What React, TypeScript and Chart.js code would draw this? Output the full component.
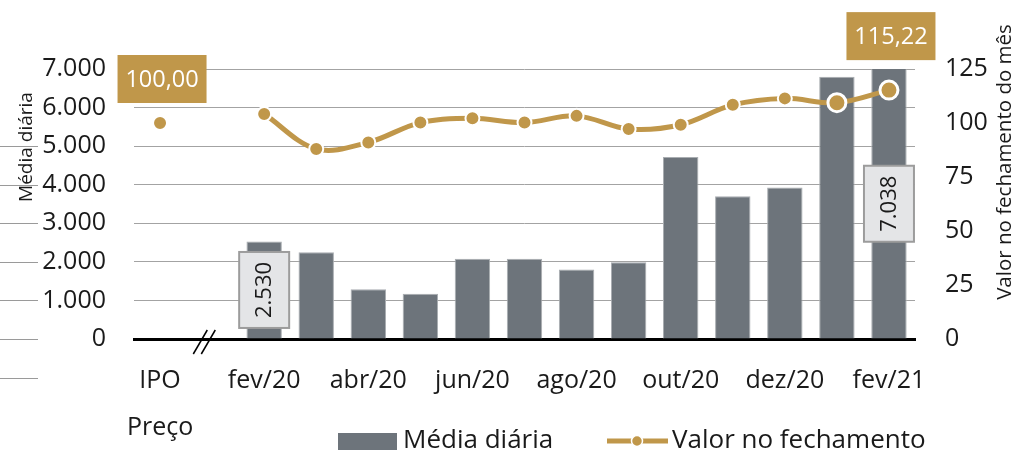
import React, { useEffect, useRef } from "react";
import { Chart, registerables } from "chart.js";

Chart.register(...registerables);

const categories: string[] = [
  "IPO", "", "fev/20", "mar/20", "abr/20", "mai/20", "jun/20", "jul/20",
  "ago/20", "set/20", "out/20", "nov/20", "dez/20", "jan/21", "fev/21",
];
const mediaDiaria: (number | null)[] = [
  null, null, 2530, 2250, 1290, 1170, 2080, 2080, 1800, 1990, 4720, 3700, 3930, 6800, 7038,
];
const valorFechamento: (number | null)[] = [
  100.0, null, 104.2, 88.0, 91.0, 100.2, 102.2, 100.2, 103.3, 97.2, 99.2, 108.4, 111.4, 109.4, 115.22,
];
const leftTicks = [0, 1000, 2000, 3000, 4000, 5000, 6000, 7000];
const rightTicks = [0, 25, 50, 75, 100, 125];
const highlightedPrices = [0, 14];
const highlightedBars = [2, 14];

const GOLD = "#C0974A";
const BAR = "#6D747B";
const FONT = "'Open Sans', 'Noto Sans', sans-serif";

const fmtBR = (v: number, dec: number) =>
  v.toLocaleString("pt-BR", { minimumFractionDigits: dec, maximumFractionDigits: dec });

export default function App() {
  const ref = useRef<HTMLCanvasElement | null>(null);

  useEffect(() => {
    document.body.style.margin = "0";
    const canvas = ref.current;
    if (!canvas) return;

    const decor = {
      id: "decor",
      afterDraw(chart: any) {
        const ctx = chart.ctx;
        const ca = chart.chartArea;
        const x = chart.scales.x;
        const y = chart.scales.y;
        ctx.save();

        // stray grid stubs at the far left
        ctx.strokeStyle = "#9a9a9a";
        ctx.lineWidth = 1;
        for (let v = 5000; v >= -1000; v -= 1000) {
          const py = Math.round(y.getPixelForValue(v)) + 0.5;
          ctx.beginPath();
          ctx.moveTo(0, py);
          ctx.lineTo(38, py);
          ctx.stroke();
        }

        // axis break mark
        const bx = x.getPixelForValue(0.85);
        const by = ca.bottom;
        ctx.strokeStyle = "#000";
        ctx.lineWidth = 1.5;
        for (const off of [-4, 4]) {
          ctx.beginPath();
          ctx.moveTo(bx + off - 7, by + 15);
          ctx.lineTo(bx + off + 7, by - 9);
          ctx.stroke();
        }

        // axis titles
        ctx.fillStyle = "#1a1a1a";
        ctx.textAlign = "center";
        ctx.textBaseline = "middle";
        ctx.font = `19px ${FONT}`;
        ctx.save();
        ctx.translate(27, (ca.top + ca.bottom) / 2 - 57);
        ctx.rotate(-Math.PI / 2);
        ctx.fillText("Média diária", 0, 0);
        ctx.restore();
        ctx.font = `20.5px ${FONT}`;
        ctx.save();
        ctx.translate(1005, (ca.top + ca.bottom) / 2 - 42);
        ctx.rotate(-Math.PI / 2);
        ctx.fillText("Valor no fechamento do mês", 0, 0);
        ctx.restore();

        // bar value labels (rotated, light boxes)
        const barMeta = chart.getDatasetMeta(0);
        ctx.font = `22px ${FONT}`;
        for (const i of highlightedBars) {
          const el = barMeta.data[i];
          const v = mediaDiaria[i];
          if (!el || v == null) continue;
          const top = Math.max(el.y, ca.top);
          const cy = (top + el.base) / 2;
          const w = 50, h = 76;
          ctx.fillStyle = "#e4e5e7";
          ctx.strokeStyle = "#9c9c9c";
          ctx.lineWidth = 2;
          ctx.fillRect(el.x - w / 2, cy - h / 2, w, h);
          ctx.strokeRect(el.x - w / 2, cy - h / 2, w, h);
          ctx.save();
          ctx.translate(el.x + 1, cy);
          ctx.rotate(-Math.PI / 2);
          ctx.fillStyle = "#1a1a1a";
          ctx.fillText(fmtBR(v, 0), 0, 0);
          ctx.restore();
        }

        // price labels (gold boxes)
        const lineMeta = chart.getDatasetMeta(1);
        ctx.font = `23.5px ${FONT}`;
        highlightedPrices.forEach((i, k) => {
          const el = lineMeta.data[i];
          const v = valorFechamento[i];
          if (!el || v == null) return;
          const w = 89, h = 48;
          const cy = el.y - (k === 0 ? 44 : 54);
          const cx = el.x + 2;
          ctx.fillStyle = GOLD;
          ctx.fillRect(cx - w / 2, cy - h / 2, w, h);
          ctx.fillStyle = "#ffffff";
          ctx.fillText(fmtBR(v, 2), cx, cy + 1);
        });

        // legend
        ctx.font = `26px ${FONT}`;
        ctx.textAlign = "left";
        ctx.fillStyle = BAR;
        ctx.fillRect(338, 433, 59, 17);
        ctx.fillStyle = "#1a1a1a";
        ctx.fillText("Média diária", 403, 441);
        ctx.strokeStyle = GOLD;
        ctx.lineWidth = 5;
        ctx.beginPath();
        ctx.moveTo(607, 441);
        ctx.lineTo(668, 441);
        ctx.stroke();
        ctx.beginPath();
        ctx.arc(637, 441, 5.5, 0, Math.PI * 2);
        ctx.fillStyle = GOLD;
        ctx.fill();
        ctx.strokeStyle = "#fff";
        ctx.lineWidth = 1.5;
        ctx.stroke();
        ctx.fillStyle = "#1a1a1a";
        ctx.fillText("Valor no fechamento", 672, 441);

        ctx.restore();
      },
    };

    const chart = new Chart(canvas, {
      data: {
        labels: categories,
        datasets: [
          {
            type: "bar",
            label: "Média diária",
            data: mediaDiaria,
            yAxisID: "y",
            backgroundColor: BAR,
            borderColor: "#a9adb1",
            borderWidth: 1,
            barPercentage: 0.68,
            categoryPercentage: 1,
            order: 2,
          },
          {
            type: "line",
            label: "Valor no fechamento",
            data: valorFechamento,
            yAxisID: "y1",
            borderColor: GOLD,
            backgroundColor: GOLD,
            borderWidth: 5,
            tension: 0.35,
            spanGaps: false,
            pointBackgroundColor: GOLD,
            pointBorderColor: "#ffffff",
            pointRadius: (c: any) => (c.dataIndex >= 13 ? 9 : 7),
            pointBorderWidth: (c: any) => (c.dataIndex >= 13 ? 3 : 2),
            order: 1,
          },
        ],
      } as any,
      options: {
        animation: false,
        responsive: true,
        maintainAspectRatio: false,
        layout: { padding: { top: 69, left: 0, right: 0, bottom: 0 } },
        plugins: { legend: { display: false }, tooltip: { enabled: false } },
        scales: {
          x: {
            grid: { display: true, drawOnChartArea: false, drawTicks: false, color: "transparent" },
            border: { display: true, color: "#000", width: 3 },
            ticks: {
              autoSkip: false,
              maxRotation: 0,
              padding: 18,
              color: "#1a1a1a",
              font: { size: 25, family: FONT, lineHeight: 1.9 },
              callback: (_v: any, i: number) =>
                i === 0 ? ["IPO", "Preço"] : i % 2 === 0 ? categories[i] : "",
            },
            afterFit: (s: any) => {
              s.height = 116;
            },
          },
          y: {
            position: "left",
            min: 0,
            max: 7000,
            afterBuildTicks: (s: any) => {
              s.ticks = leftTicks.map((v) => ({ value: v }));
            },
            grid: { color: "#a3a3a3", lineWidth: 1, drawTicks: false },
            border: { display: false },
            ticks: {
              padding: 28,
              color: "#1a1a1a",
              font: { size: 25, family: FONT },
              callback: (v: any) => fmtBR(Number(v), 0),
            },
            afterFit: (s: any) => {
              s.width = 134;
            },
          },
          y1: {
            position: "right",
            min: 0,
            max: 125,
            afterBuildTicks: (s: any) => {
              s.ticks = rightTicks.map((v) => ({ value: v }));
            },
            grid: { display: false, drawTicks: false },
            border: { display: false },
            ticks: {
              padding: 30,
              color: "#1a1a1a",
              font: { size: 25, family: FONT },
            },
            afterFit: (s: any) => {
              s.width = 104;
            },
          },
        },
      } as any,
      plugins: [decor],
    });

    return () => chart.destroy();
  }, []);

  return (
    <div style={{ position: "fixed", left: 0, top: 0, width: 1019, height: 455, background: "#fff" }}>
      <canvas ref={ref} />
    </div>
  );
}
